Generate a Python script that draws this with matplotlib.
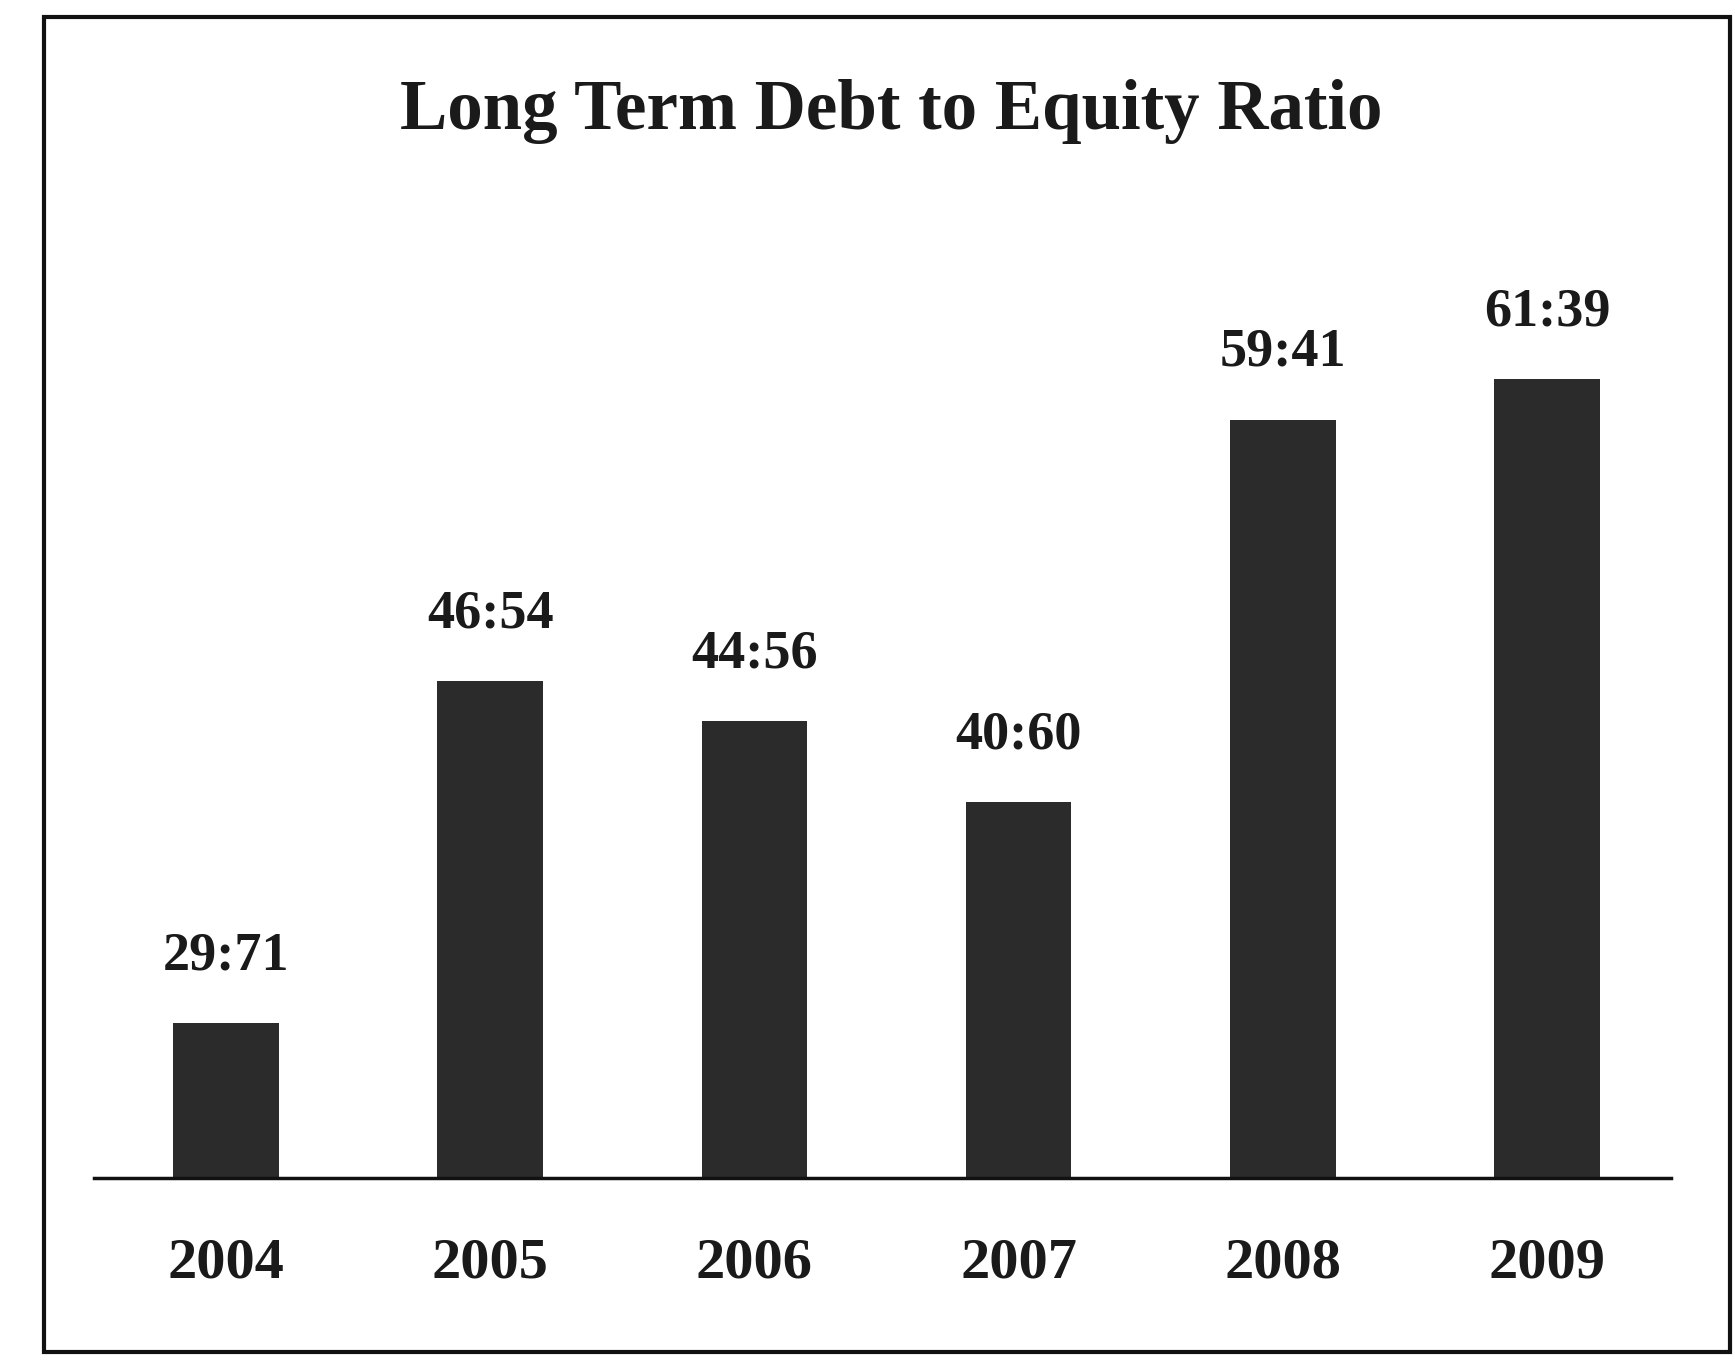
import matplotlib.pyplot as plt
from matplotlib.patches import Rectangle

# data
years = ["2004", "2005", "2006", "2007", "2008", "2009"]
debt = [29, 46, 44, 40, 59, 61]
equity = [71, 54, 56, 60, 41, 39]
ratio_labels = [f"{d}:{e}" for d, e in zip(debt, equity)]

SERIF = ["Liberation Serif", "DejaVu Serif"]
BAR_COLOR = "#2b2b2b"

fig = plt.figure(figsize=(17.35, 13.6), dpi=100)
fig.patch.set_facecolor("white")

ax = fig.add_axes([0.0542, 0.1338, 0.909, 0.719])
x = list(range(len(years)))
ax.bar(x, debt, width=0.40, color=BAR_COLOR, zorder=2)

ax.set_xlim(-0.5, 5.47)
ax.set_ylim(21.3, 69.9)

for xi, d, lab in zip(x, debt, ratio_labels):
    ax.annotate(lab, (xi, d), xytext=(0, 48), textcoords="offset points",
                ha="center", va="center", fontsize=39, fontweight="bold",
                family=SERIF, color="#1a1a1a")

ax.set_xticks(x)
ax.set_xticklabels(years, fontsize=42, fontweight="bold", family=SERIF,
                   color="#1a1a1a")
ax.tick_params(axis="x", length=0, pad=43)
ax.set_yticks([])
for s in ["top", "left", "right"]:
    ax.spines[s].set_visible(False)
ax.spines["bottom"].set_linewidth(2.5)
ax.spines["bottom"].set_color("#111111")
ax.set_facecolor("none")

fig.text(0.5135, 0.918, "Long Term Debt to Equity Ratio", ha="center",
         va="center", fontsize=51, fontweight="bold", family=SERIF,
         color="#1a1a1a")

# outer frame of the scanned figure
fig.patches.append(Rectangle((44 / 1735, 8 / 1360), (1730 - 44) / 1735,
                             (1343 - 8) / 1360, transform=fig.transFigure,
                             fill=False, edgecolor="#111111", linewidth=3))

fig.savefig("out.png", dpi=100, facecolor="white")
